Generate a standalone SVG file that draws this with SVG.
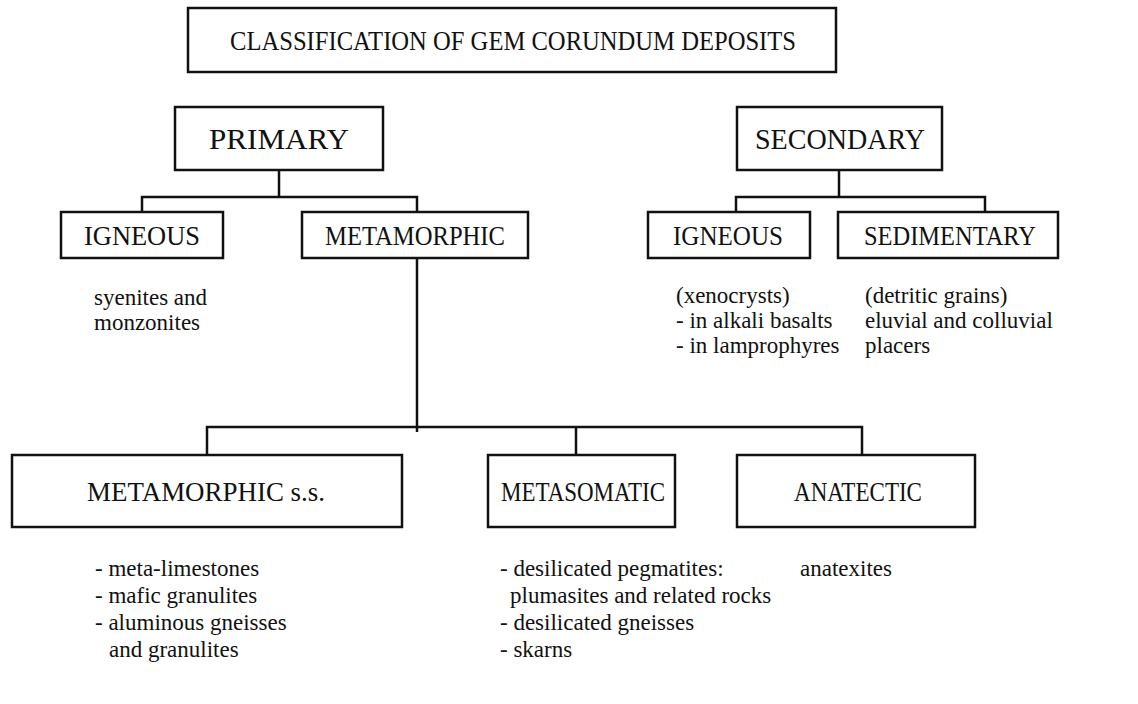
<svg xmlns="http://www.w3.org/2000/svg" width="1138" height="704" viewBox="0 0 1138 704">
<style>
.box{fill:#fff;stroke:#111;stroke-width:2.5}
.lbl{font-family:"Liberation Serif","Times New Roman",serif;font-size:27px;fill:#111;text-anchor:middle}
.big{font-size:29px}
.txt{font-family:"Liberation Serif","Times New Roman",serif;font-size:23px;fill:#111}
.con{fill:none;stroke:#111;stroke-width:2.5}
</style>
<rect width="1138" height="704" fill="#fff"/>
<g id="connectors">
<path class="con" d="M279 170V197M142 212V197H417V212"/>
<path class="con" d="M839 170V197M736 212V197H985V212"/>
<path class="con" d="M417 258V432M207 455V427H862V455M576 427V455"/>
</g>
<g id="title"><rect class="box" x="188" y="8" width="648" height="64"/><text class="lbl" x="513" y="50" style="font-size:28px" textLength="566" lengthAdjust="spacingAndGlyphs">CLASSIFICATION OF GEM CORUNDUM DEPOSITS</text></g>
<g id="primary"><rect class="box" x="175" y="107" width="208" height="63"/><text class="lbl big" x="279" y="149" textLength="140" lengthAdjust="spacingAndGlyphs">PRIMARY</text></g>
<g id="secondary"><rect class="box" x="737" y="107" width="205" height="63"/><text class="lbl big" x="840" y="149" textLength="170" lengthAdjust="spacingAndGlyphs">SECONDARY</text></g>
<g id="p-igneous"><rect class="box" x="61" y="212" width="162" height="46"/><text class="lbl" x="142" y="245" textLength="116" lengthAdjust="spacingAndGlyphs">IGNEOUS</text>
<text class="txt" x="94" y="305">syenites and</text><text class="txt" x="94" y="330">monzonites</text></g>
<g id="p-metamorphic"><rect class="box" x="302" y="212" width="226" height="46"/><text class="lbl" x="415" y="245" textLength="180" lengthAdjust="spacingAndGlyphs">METAMORPHIC</text></g>
<g id="s-igneous"><rect class="box" x="648" y="212" width="162" height="46"/><text class="lbl" x="728" y="245" textLength="110" lengthAdjust="spacingAndGlyphs">IGNEOUS</text>
<text class="txt" x="676" y="303">(xenocrysts)</text><text class="txt" x="676" y="328">- in alkali basalts</text><text class="txt" x="676" y="353">- in lamprophyres</text></g>
<g id="s-sedimentary"><rect class="box" x="838" y="212" width="220" height="46"/><text class="lbl" x="950" y="245" textLength="172" lengthAdjust="spacingAndGlyphs">SEDIMENTARY</text>
<text class="txt" x="865" y="303">(detritic grains)</text><text class="txt" x="865" y="328">eluvial and colluvial</text><text class="txt" x="865" y="353">placers</text></g>
<g id="metamorphic-ss"><rect class="box" x="12" y="455" width="390" height="72"/><text class="lbl" x="206" y="501" textLength="238" lengthAdjust="spacingAndGlyphs">METAMORPHIC s.s.</text>
<text class="txt" x="95" y="576">- meta-limestones</text><text class="txt" x="95" y="603">- mafic granulites</text><text class="txt" x="95" y="630">- aluminous gneisses</text><text class="txt" x="109" y="657">and granulites</text></g>
<g id="metasomatic"><rect class="box" x="488" y="455" width="187" height="72"/><text class="lbl" x="583" y="501" textLength="164" lengthAdjust="spacingAndGlyphs">METASOMATIC</text>
<text class="txt" x="500" y="576">- desilicated pegmatites:</text><text class="txt" x="510" y="603">plumasites and related rocks</text><text class="txt" x="500" y="630">- desilicated gneisses</text><text class="txt" x="500" y="657">- skarns</text></g>
<g id="anatectic"><rect class="box" x="737" y="455" width="238" height="72"/><text class="lbl" x="858" y="501" textLength="128" lengthAdjust="spacingAndGlyphs">ANATECTIC</text>
<text class="txt" x="800" y="576">anatexites</text></g>
</svg>
